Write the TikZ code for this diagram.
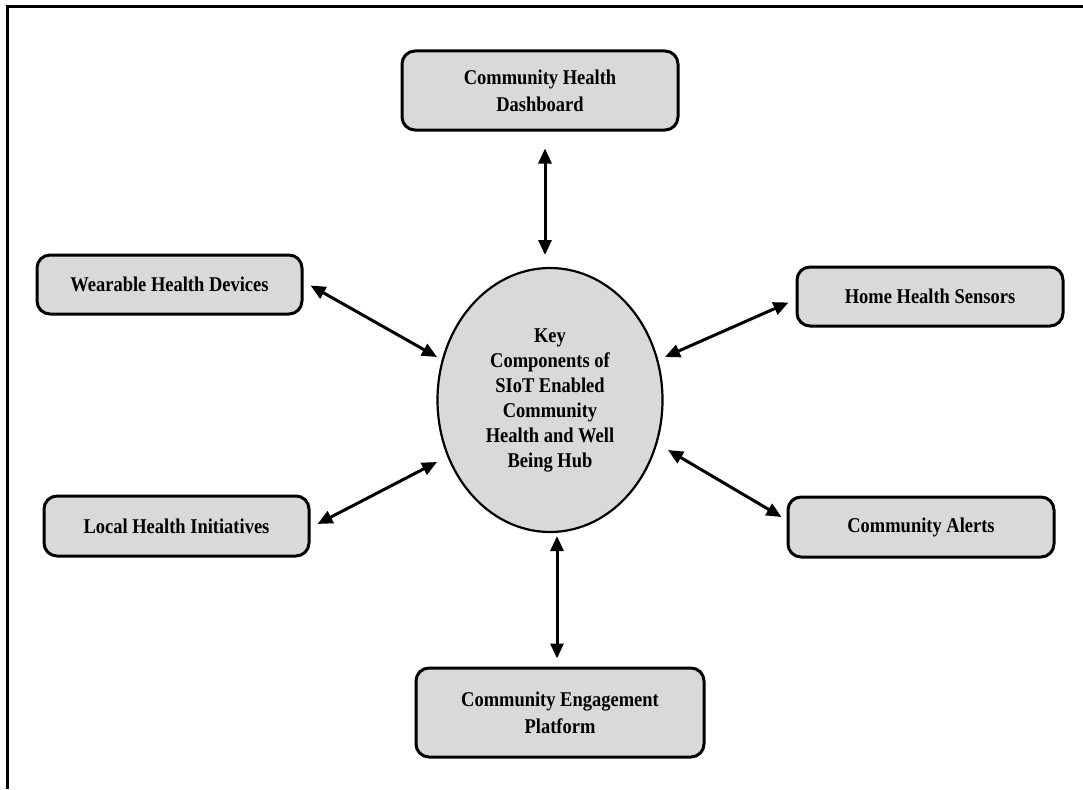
\documentclass[tikz,border=0pt]{standalone}
\usepackage{fontspec}
\setmainfont[FakeStretch=0.88]{Liberation Serif}
\usetikzlibrary{arrows.meta,shapes.geometric,calc}
\definecolor{boxgray}{HTML}{D9D9D9}
\tikzset{
  compbox/.style={draw=black, line width=3pt, fill=boxgray, rounded corners=13pt,
    align=center, inner sep=0pt, font=\bfseries\fontsize{21}{27}\selectfont},
  hubnode/.style={draw=black, line width=2.2pt, fill=boxgray, ellipse, inner sep=0pt,
    minimum width=225pt, minimum height=264pt, align=center,
    font=\bfseries\fontsize{21}{25}\selectfont},
  link/.style={line width=3pt, {Triangle[length=15pt,width=13pt]}-{Triangle[length=15pt,width=13pt]}},
  frameline/.style={line width=3pt}
}
\begin{document}
\begin{tikzpicture}[x=1pt,y=-1pt]
\useasboundingbox (0,0) rectangle (1083,789);
\draw[frameline] (7,789) -- (7,7) -- (1083,7);

\node[hubnode] (hub) at (550,400) {Key\\Components of\\SIoT Enabled\\Community\\Health and Well\\Being Hub};

\node[compbox, minimum width=276pt, minimum height=79pt] (dash) at (540,90.5) {Community Health\\Dashboard};
\node[compbox, minimum width=265pt, minimum height=59pt] (wear) at (169.5,284.5) {Wearable Health Devices};
\node[compbox, minimum width=266pt, minimum height=59pt] (home) at (930,296.5) {Home Health Sensors};
\node[compbox, minimum width=265pt, minimum height=60pt] (local) at (176.5,526) {Local Health Initiatives};
\node[compbox, minimum width=266pt, minimum height=60pt] (alert) at (921,527) {Community Alerts};
\node[compbox, minimum width=288pt, minimum height=89pt] (eng) at (560,712.5) {Community Engagement\\Platform};

\draw[link] ($(dash.south)+(5,17)$) -- ($(hub.center)+(-5,-145)$);
\draw[link] ($(wear.east)+(7,1)$) -- ($(hub.center)+(-113,-43)$);
\draw[link] ($(hub.center)+(115,-43)$) -- ($(home.west)+(-7,6)$);
\draw[link] ($(local.east)+(7,-2)$) -- ($(hub.center)+(-113,62)$);
\draw[link] ($(hub.center)+(118,50)$) -- ($(alert.west)+(-5,-10)$);
\draw[link] ($(hub.center)+(7,136)$) -- ($(eng.north)+(-3,-8)$);
\end{tikzpicture}
\end{document}
